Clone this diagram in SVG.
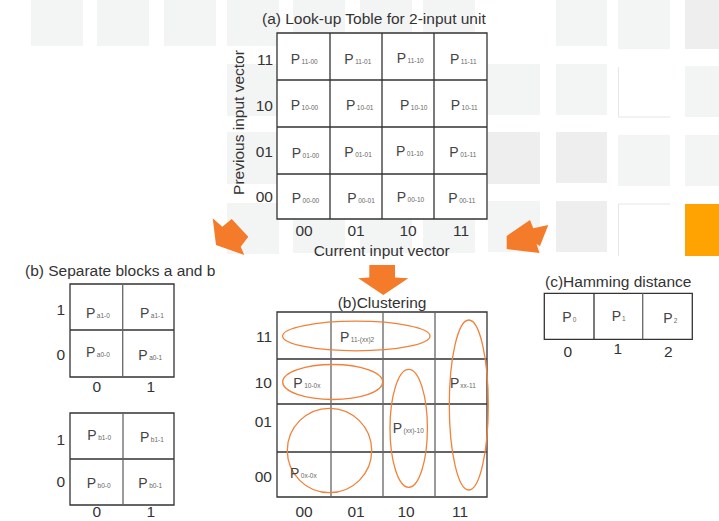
<svg xmlns="http://www.w3.org/2000/svg" width="719" height="521" viewBox="0 0 719 521">
<style>
text{font-family:"Liberation Sans",Arial,sans-serif;fill:#333}
.lb{font-size:15.5px}
.p{font-size:14px;fill:#444}
.s{font-size:6.5px;fill:#666}
.bg{fill:#f3f4f4}
.bg2{fill:#eeeeee}
.bge{fill:none;stroke:#e6e6e6;stroke-width:1}
.cell{fill:#fff;stroke:none}
.ln{stroke:#333;stroke-width:1.3;fill:none}
.ln2{stroke:#666;stroke-width:1.3;fill:none}
.ell{fill:none;stroke:#f0823a;stroke-width:1.3}
.arr{fill:#f47b2a}
</style>
<g id="background">
<rect class="bg" x="31" y="-6" width="52" height="52"/>
<rect class="bg" x="97" y="-6" width="52" height="52"/>
<rect class="bg" x="164" y="-6" width="52" height="52"/>
<rect class="bg" x="227" y="-6" width="52" height="52"/>
<rect class="bg" x="293" y="-6" width="52" height="52"/>
<rect class="bg" x="360" y="-6" width="52" height="52"/>
<rect class="bg" x="423" y="-6" width="52" height="52"/>
<rect class="bg" x="556" y="-6" width="51" height="52"/>
<rect class="bg" x="618" y="-6" width="52" height="55"/>
<rect class="bg2" x="685" y="-6" width="52" height="55"/>
<rect class="bg" x="227" y="64" width="52" height="52"/>
<rect class="bg" x="488" y="64" width="52" height="51"/>
<rect class="bg" x="556" y="64" width="51" height="51"/>
<path class="bge" d="M618.5 67V117H670"/>
<rect class="bg" x="685" y="66" width="52" height="51"/>
<rect class="bg" x="227" y="132" width="52" height="52"/>
<rect class="bg2" x="488" y="132" width="52" height="52"/>
<rect class="bg2" x="556" y="132" width="51" height="51"/>
<rect class="bg" x="618" y="135" width="52" height="51"/>
<rect class="bg" x="685" y="135" width="52" height="51"/>
<rect class="bg" x="227" y="203" width="52" height="51"/>
<rect class="bg" x="293" y="201" width="52" height="52"/>
<rect class="bg" x="360" y="201" width="52" height="52"/>
<rect class="bg" x="423" y="201" width="52" height="52"/>
<rect class="bg" x="488" y="201" width="52" height="51"/>
<rect class="bg2" x="556" y="201" width="51" height="51"/>
<path class="bge" d="M618.5 256V204H670"/>
<rect fill="#ffa303" x="685" y="204" width="52" height="52"/>
</g>
<g id="lut">
<rect class="cell" x="277" y="33" width="210" height="186"/>
<path class="ln" d="M277 33H487V219H277Z M277 80H487 M277 127H487 M277 174H487 M330 33V219 M382 33V219 M434 33V219"/>
<text class="lb" x="262" y="24">(a) Look-up Toble for 2-input unit</text>
<text class="lb" transform="translate(243.5 122.5) rotate(-90)" text-anchor="middle">Previous input vector</text>
<g text-anchor="end" class="lb">
<text x="273" y="65">11</text>
<text x="273" y="111">10</text>
<text x="273" y="157">01</text>
<text x="273" y="202">00</text>
</g>
<g text-anchor="middle" class="lb">
<text x="304" y="236">00</text>
<text x="356" y="236">01</text>
<text x="408" y="236">10</text>
<text x="461" y="236">11</text>
<text x="381.7" y="256">Current input vector</text>
</g>
<text class="p" x="290.7" y="64">P<tspan class="s" dx="1.5">11-00</tspan></text>
<text class="p" x="344.3" y="64">P<tspan class="s" dx="1.5">11-01</tspan></text>
<text class="p" x="396.7" y="63">P<tspan class="s" dx="1.5">11-10</tspan></text>
<text class="p" x="450" y="64">P<tspan class="s" dx="1.5">11-11</tspan></text>
<text class="p" x="290.7" y="110">P<tspan class="s" dx="1.5">10-00</tspan></text>
<text class="p" x="346" y="110">P<tspan class="s" dx="1.5">10-01</tspan></text>
<text class="p" x="400" y="110">P<tspan class="s" dx="1.5">10-10</tspan></text>
<text class="p" x="450.7" y="110">P<tspan class="s" dx="1.5">10-11</tspan></text>
<text class="p" x="291.7" y="157.7">P<tspan class="s" dx="1.5">01-00</tspan></text>
<text class="p" x="344.3" y="156.7">P<tspan class="s" dx="1.5">01-01</tspan></text>
<text class="p" x="396" y="156">P<tspan class="s" dx="1.5">01-10</tspan></text>
<text class="p" x="449.3" y="156.7">P<tspan class="s" dx="1.5">01-11</tspan></text>
<text class="p" x="291.7" y="202.7">P<tspan class="s" dx="1.5">00-00</tspan></text>
<text class="p" x="347.3" y="202.7">P<tspan class="s" dx="1.5">00-01</tspan></text>
<text class="p" x="396.7" y="202">P<tspan class="s" dx="1.5">00-10</tspan></text>
<text class="p" x="448.3" y="202.7">P<tspan class="s" dx="1.5">00-11</tspan></text>
</g>
<g id="connectors">
<polygon class="arr" points="212.7,218.3 222.3,226.7 231.7,219 248.3,236.7 240.7,246.7 244.3,255 216,245"/>
<polygon class="arr" points="369.3,265 395,265 395,277.5 408.3,278.3 383.3,295 358.3,278.3 369.3,277.5"/>
<polygon class="arr" points="530,220 533.3,228.3 548.3,225 540,246 536.5,244 539.5,253 506.7,249 506.7,236"/>
</g>
<g id="blocks-ab">
<text class="lb" x="25" y="276">(b) Separate blocks a and b</text>
<g id="block-a">
<rect class="cell" x="70" y="284" width="104" height="93"/>
<path class="ln" d="M70 284H174V377H70Z M70 330H174"/>
<path class="ln2" d="M122.7 284V377"/>
<text class="lb" x="65" y="315" text-anchor="end">1</text>
<text class="lb" x="65" y="360" text-anchor="end">0</text>
<text class="lb" x="96.7" y="391.7" text-anchor="middle">0</text>
<text class="lb" x="150.7" y="391.7" text-anchor="middle">1</text>
<text class="p" x="86" y="318.3">P<tspan class="s" dx="1.5">a1-0</tspan></text>
<text class="p" x="140" y="318.3">P<tspan class="s" dx="1.5">a1-1</tspan></text>
<text class="p" x="86" y="356.7">P<tspan class="s" dx="1.5">a0-0</tspan></text>
<text class="p" x="138.3" y="360">P<tspan class="s" dx="1.5">a0-1</tspan></text>
</g>
<g id="block-b">
<rect class="cell" x="70" y="413" width="104" height="92"/>
<path class="ln" d="M70 413H174V505H70Z M70 459H174"/>
<path class="ln2" d="M123 413V505"/>
<text class="lb" x="65" y="445" text-anchor="end">1</text>
<text class="lb" x="65" y="487.3" text-anchor="end">0</text>
<text class="lb" x="96.7" y="517" text-anchor="middle">0</text>
<text class="lb" x="150.7" y="517" text-anchor="middle">1</text>
<text class="p" x="87.3" y="440">P<tspan class="s" dx="1.5">b1-0</tspan></text>
<text class="p" x="140" y="442.3">P<tspan class="s" dx="1.5">b1-1</tspan></text>
<text class="p" x="86.7" y="487.7">P<tspan class="s" dx="1.5">b0-0</tspan></text>
<text class="p" x="138.3" y="487.7">P<tspan class="s" dx="1.5">b0-1</tspan></text>
</g>
</g>
<g id="clustering">
<text class="lb" x="337.7" y="307.7">(b)Clustering</text>
<path class="ln" d="M277 312H487V497H277Z M277 359H487 M277 404H487 M277 452H487"/>
<path class="ln2" d="M331 312V497 M383 312V497 M435 312V497"/>
<g text-anchor="end" class="lb">
<text x="272" y="342">11</text>
<text x="272" y="388">10</text>
<text x="272" y="427">01</text>
<text x="272" y="482">00</text>
</g>
<g text-anchor="middle" class="lb">
<text x="304" y="517">00</text>
<text x="356" y="517">01</text>
<text x="406" y="517">10</text>
<text x="460" y="517">11</text>
</g>
<ellipse class="ell" cx="356.3" cy="336" rx="73.7" ry="14.8"/>
<ellipse class="ell" cx="332.7" cy="382" rx="50" ry="17.5"/>
<ellipse class="ell" cx="408.7" cy="428.3" rx="18.7" ry="59"/>
<ellipse class="ell" cx="468.8" cy="405" rx="19.5" ry="85"/>
<circle class="ell" cx="329.5" cy="450.5" r="42.2"/>
<text class="p" x="340" y="341.7">P<tspan class="s" dx="1.5">11-(xx)2</tspan></text>
<text class="p" x="293.3" y="388">P<tspan class="s" dx="1.5">10-0x</tspan></text>
<text class="p" x="450" y="388">P<tspan class="s" dx="1">xx-11</tspan></text>
<text class="p" x="392.7" y="433.3">P<tspan class="s" dx="1.5">(xx)-10</tspan></text>
<text class="p" x="290" y="478.3">P<tspan class="s" dx="1.5">0x-0x</tspan></text>
</g>
<g id="hamming">
<text class="lb" x="545" y="287.3">(c)Hamming distance</text>
<rect class="cell" x="544.3" y="293.3" width="148" height="46"/>
<path class="ln" d="M544.3 293.3H692.3V339.3H544.3Z M594 293.3V339.3"/>
<path class="ln2" d="M642.7 293.3V339.3"/>
<text class="p" x="562.3" y="321.7">P<tspan class="s" dx="1" font-size="5">0</tspan></text>
<text class="p" x="611.7" y="320.7">P<tspan class="s" dx="1" font-size="5">1</tspan></text>
<text class="p" x="663.3" y="323.3">P<tspan class="s" dx="1" font-size="5">2</tspan></text>
<text class="lb" x="567.7" y="357" text-anchor="middle">0</text>
<text class="lb" x="617.7" y="354" text-anchor="middle">1</text>
<text class="lb" x="668.3" y="357" text-anchor="middle">2</text>
</g>
</svg>
